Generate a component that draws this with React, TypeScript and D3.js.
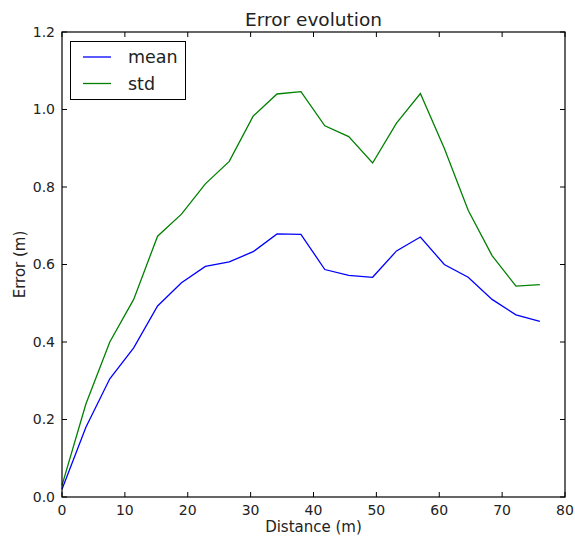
import * as d3 from "d3";
import { useEffect, useRef } from "react";

// distance (m)
const distance = [0, 3.8, 7.6, 11.4, 15.2, 19, 22.8, 26.6, 30.4, 34.2, 38, 41.8, 45.6, 49.4, 53.2, 57, 60.8, 64.6, 68.4, 72.2, 76];
// error values
const meanErr = [0.02, 0.18, 0.305, 0.385, 0.493, 0.553, 0.595, 0.607, 0.633, 0.679, 0.678, 0.587, 0.572, 0.567, 0.635, 0.671, 0.6, 0.567, 0.51, 0.47, 0.453];
const stdErr = [0.03, 0.24, 0.4, 0.51, 0.673, 0.73, 0.808, 0.866, 0.983, 1.04, 1.046, 0.958, 0.93, 0.862, 0.965, 1.041, 0.9, 0.74, 0.623, 0.544, 0.548];
const xTicks = [0, 10, 20, 30, 40, 50, 60, 70, 80];
const yTicks = [0, 0.2, 0.4, 0.6, 0.8, 1.0, 1.2];

const W = 575;
const H = 537;
const margin = { top: 32, right: 10, bottom: 40, left: 62 };
const FONT = "DejaVu Sans, sans-serif";

const App = () => {
  const ref = useRef<SVGSVGElement>(null);

  useEffect(() => {
    document.body.style.margin = "0";
    document.body.style.overflow = "hidden";
    const svg = d3.select(ref.current);
    svg.selectAll("*").remove();

    const x = d3.scaleLinear().domain([0, 80]).range([margin.left, W - margin.right]);
    const y = d3.scaleLinear().domain([0, 1.2]).range([H - margin.bottom, margin.top]);

    const series = [
      { name: "mean", vals: meanErr, color: "#0000ff" },
      { name: "std", vals: stdErr, color: "#008000" },
    ];

    const line = d3.line<number>()
      .x((_, i) => x(distance[i]))
      .y(d => y(d));

    series.forEach(s => {
      svg.append("path")
        .attr("d", line(s.vals))
        .attr("fill", "none")
        .attr("stroke", s.color)
        .attr("stroke-width", 1.3);
    });

    // рамка
    svg.append("rect")
      .attr("x", x(0)).attr("y", y(1.2))
      .attr("width", x(80) - x(0)).attr("height", y(0) - y(1.2))
      .attr("fill", "none").attr("stroke", "#000").attr("stroke-width", 1.2);

    // тики внутрь, со всех сторон
    const tl = 5;
    xTicks.forEach(t => {
      svg.append("line").attr("x1", x(t)).attr("x2", x(t)).attr("y1", y(0)).attr("y2", y(0) - tl).attr("stroke", "#000");
      svg.append("line").attr("x1", x(t)).attr("x2", x(t)).attr("y1", y(1.2)).attr("y2", y(1.2) + tl).attr("stroke", "#000");
      svg.append("text").attr("x", x(t)).attr("y", y(0) + 18)
        .attr("text-anchor", "middle").attr("font-family", FONT).attr("font-size", 14).attr("fill", "#222")
        .text(t);
    });
    yTicks.forEach(t => {
      svg.append("line").attr("x1", x(0)).attr("x2", x(0) + tl).attr("y1", y(t)).attr("y2", y(t)).attr("stroke", "#000");
      svg.append("line").attr("x1", x(80)).attr("x2", x(80) - tl).attr("y1", y(t)).attr("y2", y(t)).attr("stroke", "#000");
      svg.append("text").attr("x", x(0) - 7).attr("y", y(t)).attr("dy", "0.35em")
        .attr("text-anchor", "end").attr("font-family", FONT).attr("font-size", 14).attr("fill", "#222")
        .text(t.toFixed(1));
    });

    // заголовок и подписи осей
    svg.append("text").attr("x", (x(0) + x(80)) / 2).attr("y", y(1.2) - 6)
      .attr("text-anchor", "middle").attr("font-family", FONT).attr("font-size", 18.5).attr("fill", "#222")
      .text("Error evolution");
    svg.append("text").attr("x", (x(0) + x(80)) / 2).attr("y", H - 5)
      .attr("text-anchor", "middle").attr("font-family", FONT).attr("font-size", 15).attr("fill", "#222")
      .text("Distance (m)");
    svg.append("text")
      .attr("transform", `translate(25, ${(y(0) + y(1.2)) / 2}) rotate(-90)`)
      .attr("text-anchor", "middle").attr("font-family", FONT).attr("font-size", 15).attr("fill", "#222")
      .text("Error (m)");

    // легенда
    const lg = svg.append("g").attr("transform", "translate(70.5, 41.5)");
    lg.append("rect").attr("width", 115).attr("height", 58)
      .attr("fill", "#fff").attr("stroke", "#000").attr("stroke-width", 1);
    series.forEach((s, i) => {
      const yy = 15.5 + i * 26.5;
      lg.append("line").attr("x1", 12.5).attr("x2", 40.5).attr("y1", yy).attr("y2", yy)
        .attr("stroke", s.color).attr("stroke-width", 1.3);
      lg.append("text").attr("x", 57.5).attr("y", yy).attr("dy", "0.35em")
        .attr("font-family", FONT).attr("font-size", 17.5).attr("fill", "#222")
        .text(s.name);
    });
  }, []);

  return <svg ref={ref} width={W} height={H} style={{ display: "block" }} />;
};

export default App;
